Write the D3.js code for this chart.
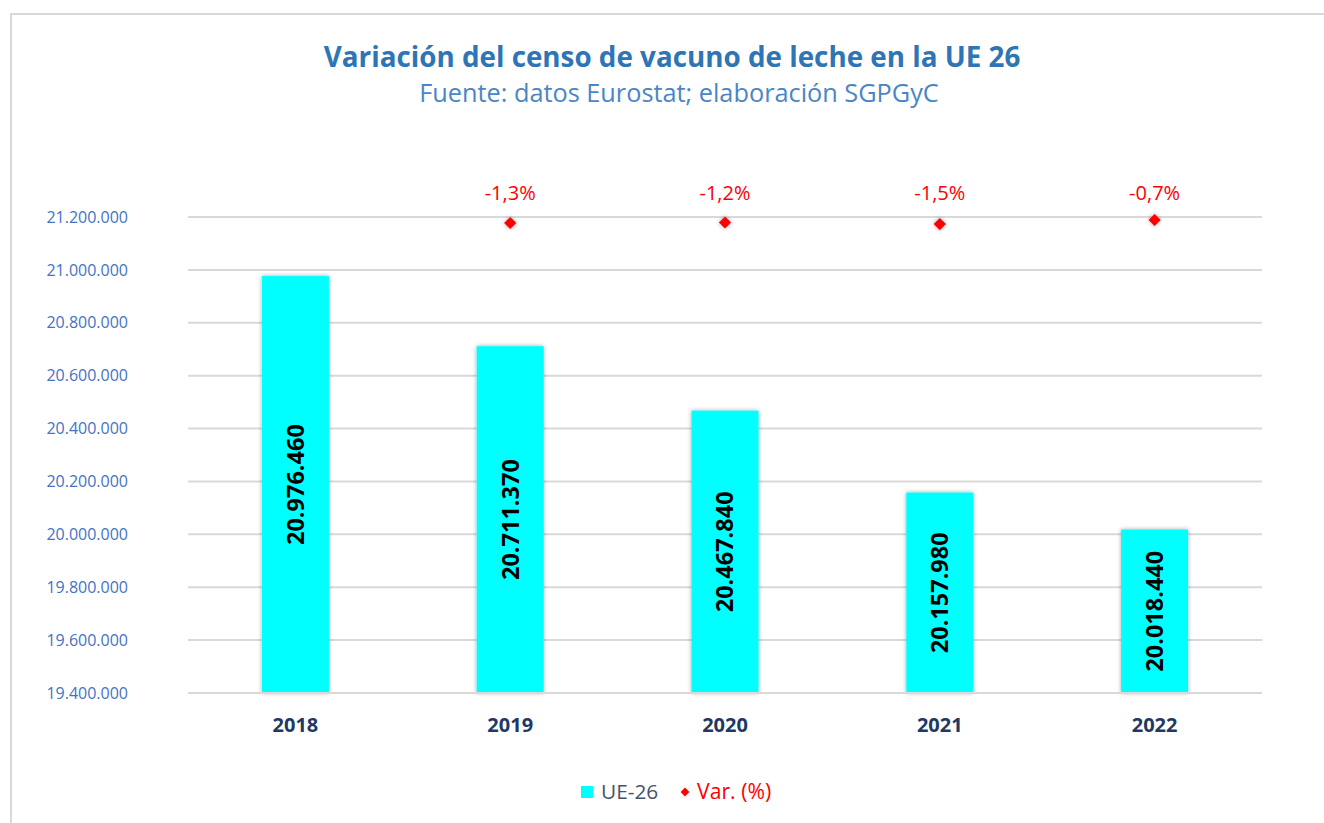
<!DOCTYPE html>
<html lang="es">
<head>
<meta charset="UTF-8">
<title>Variación del censo de vacuno de leche en la UE 26</title>
<script src="https://d3js.org/d3.v7.min.js"></script>
<style>
  body { margin: 0; background: #fff; }
  svg, svg text { font-family: "Open Sans", "Noto Sans", sans-serif; }
  svg { display: block; }
</style>
</head>
<body>
<svg id="chart" width="1324" height="823"></svg>
<script>
// datos
var years = ["2018", "2019", "2020", "2021", "2022"];
var censo = [20976460, 20711370, 20467840, 20157980, 20018440];
var variacion = [null, -1.3, -1.2, -1.5, -0.7];
var yTicks = [19400000, 19600000, 19800000, 20000000, 20200000, 20400000, 20600000, 20800000, 21000000, 21200000];

var width = 1324, height = 823;
var margin = { left: 188, right: 62, top: 217, bottom: 130 };

var svg = d3.select("#chart");

// sombra de las barras
var defs = svg.append("defs");
var f = defs.append("filter").attr("id", "sombra").attr("x", "-20%").attr("y", "-20%").attr("width", "140%").attr("height", "140%");
f.append("feDropShadow").attr("dx", 0).attr("dy", 0).attr("stdDeviation", 2)
  .attr("flood-color", "#000").attr("flood-opacity", 0.35);

// marco
svg.append("rect")
  .attr("x", 11).attr("y", 14)
  .attr("width", 1330).attr("height", 830)
  .attr("fill", "#fff").attr("stroke", "#d9d9d9").attr("stroke-width", 2);

// formato con punto de miles
var loc = d3.formatLocale({ decimal: ",", thousands: ".", grouping: [3], currency: ["", "€"], minus: "-" });
var fmt = loc.format(",.0f");
var fmtPct = loc.format(".1f");

var x = d3.scaleBand()
  .domain(years)
  .range([margin.left, width - margin.right])
  .paddingInner(0.688)
  .paddingOuter(0.344);

var y = d3.scaleLinear()
  .domain([19400000, 21200000])
  .range([height - margin.bottom, margin.top]);

// eje secundario oculto para la variación
var y2 = d3.scaleLinear()
  .domain([-95, 0])
  .range([height - margin.bottom, margin.top - 0.5]);

// líneas de la cuadrícula
svg.append("g")
  .selectAll("line")
  .data(yTicks)
  .enter().append("line")
  .attr("x1", margin.left)
  .attr("x2", width - margin.right)
  .attr("y1", function(d) { return y(d); })
  .attr("y2", function(d) { return y(d); })
  .attr("stroke", "#d9d9d9")
  .attr("stroke-width", 2);

// eje Y
var yAxis = svg.append("g")
  .attr("transform", "translate(128,0)")
  .call(d3.axisLeft(y).tickValues(yTicks).tickFormat(fmt).tickSize(0).tickPadding(0));
yAxis.attr("font-family", null);
yAxis.select(".domain").remove();
yAxis.selectAll("text")
  .attr("fill", "#4472c4")
  .style("font-size", "16px");

// barras
svg.append("g")
  .selectAll("rect")
  .data(censo)
  .enter().append("rect")
  .attr("x", function(d, i) { return x(years[i]); })
  .attr("y", function(d) { return y(d); })
  .attr("width", x.bandwidth())
  .attr("height", function(d) { return y(19400000) - y(d); })
  .attr("fill", "#00ffff")
  .attr("filter", "url(#sombra)");

// etiquetas de las barras
svg.append("g")
  .selectAll("text")
  .data(censo)
  .enter().append("text")
  .attr("transform", function(d, i) {
    var cx = x(years[i]) + x.bandwidth() / 2;
    var cy = (y(d) + y(19400000)) / 2;
    return "translate(" + cx + "," + cy + ") rotate(-90)";
  })
  .attr("text-anchor", "middle")
  .attr("dy", "0.36em")
  .attr("fill", "#000")
  .style("font-size", "23.5px")
  .style("font-weight", "bold")
  .text(function(d) { return fmt(d); });

// línea base
svg.append("line")
  .attr("x1", margin.left).attr("x2", width - margin.right)
  .attr("y1", y(19400000)).attr("y2", y(19400000))
  .attr("stroke", "#d9d9d9").attr("stroke-width", 2);

// eje X
var xAxis = svg.append("g")
  .attr("transform", "translate(0," + (y(19400000) + 32) + ")")
  .call(d3.axisBottom(x).tickSize(0).tickPadding(0));
xAxis.attr("font-family", null);
xAxis.select(".domain").remove();
xAxis.selectAll("text")
  .attr("fill", "#1f3864")
  .attr("dy", "0.35em")
  .style("font-size", "20px")
  .style("font-weight", "bold");

// variación (%)
var varData = variacion.map(function(v, i) { return { year: years[i], v: v }; })
  .filter(function(d) { return d.v !== null; });
var diamond = d3.symbol().type(d3.symbolDiamond2).size(95);

svg.append("g")
  .selectAll("path")
  .data(varData)
  .enter().append("path")
  .attr("d", diamond)
  .attr("transform", function(d) {
    return "translate(" + (x(d.year) + x.bandwidth() / 2) + "," + y2(d.v) + ")";
  })
  .attr("fill", "#ff0000")
  .attr("filter", "url(#sombra)");

svg.append("g")
  .selectAll("text")
  .data(varData)
  .enter().append("text")
  .attr("x", function(d) { return x(d.year) + x.bandwidth() / 2; })
  .attr("y", 193)
  .attr("dy", "0.35em")
  .attr("text-anchor", "middle")
  .attr("fill", "#ff0000")
  .style("font-size", "20px")
  .text(function(d) { return fmtPct(d.v) + "%"; });

// títulos
svg.append("text")
  .attr("x", 672).attr("y", 57)
  .attr("dy", "0.35em")
  .attr("text-anchor", "middle")
  .attr("fill", "#2e75b6")
  .style("font-size", "27.8px")
  .style("font-weight", "bold")
  .text("Variación del censo de vacuno de leche en la UE 26");

svg.append("text")
  .attr("x", 679).attr("y", 93)
  .attr("dy", "0.35em")
  .attr("text-anchor", "middle")
  .attr("fill", "#4a86c5")
  .style("font-size", "25.3px")
  .text("Fuente: datos Eurostat; elaboración SGPGyC");

// leyenda
var leg = svg.append("g").attr("transform", "translate(581,792)");
leg.append("rect").attr("x", 0).attr("y", -6).attr("width", 12).attr("height", 12).attr("fill", "#00ffff");
leg.append("text").attr("x", 20).attr("dy", "0.35em")
  .attr("fill", "#44546a").style("font-size", "20.8px").text("UE-26");
leg.append("path").attr("d", d3.symbol().type(d3.symbolDiamond2).size(50))
  .attr("transform", "translate(104,0)").attr("fill", "#ff0000");
leg.append("text").attr("x", 116).attr("dy", "0.35em")
  .attr("fill", "#ff0000").style("font-size", "21.2px").text("Var. (%)");
</script>
</body>
</html>
